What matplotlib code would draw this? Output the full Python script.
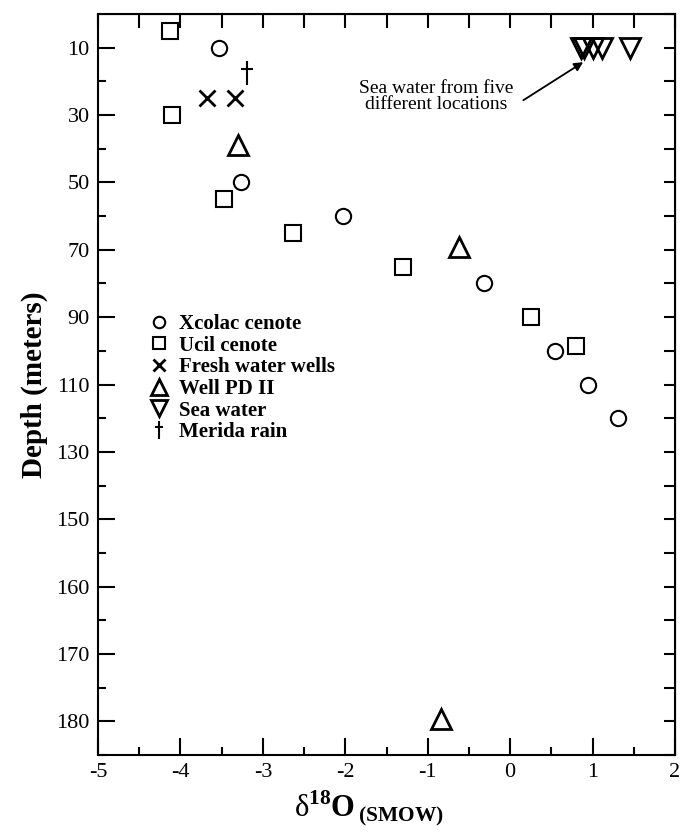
import matplotlib.pyplot as plt
import numpy as np
from matplotlib.path import Path

plt.rcParams["font.family"] = ["Liberation Serif", "DejaVu Serif"]
plt.rcParams["mathtext.fontset"] = "custom"
plt.rcParams["mathtext.rm"] = "Liberation Serif"
plt.rcParams["mathtext.bf"] = "Liberation Serif:bold"
plt.rcParams["axes.unicode_minus"] = False

# depth is in axis position units (the printed labels step by 10 below 150)
xcolac_d18o = [-3.53, -3.26, -2.03, -0.32, 0.55, 0.94, 1.31]
xcolac_depth = [10, 50, 60, 80, 100, 110, 120]
ucil_d18o = [-4.13, -4.10, -3.47, -2.63, -1.30, 0.25, 0.80]
ucil_depth = [5, 30, 55, 65, 75, 90, 98.5]
wells_d18o = [-3.68, -3.34]
wells_depth = [25, 25]
pd2_d18o = [-3.30, -0.62, -0.84]
pd2_depth = [39, 69.3, 209.4]
sea_d18o = [0.86, 0.90, 1.00, 1.12, 1.46]
sea_depth = [10, 10, 10, 10, 10]
rain_d18o = [-3.19]
rain_depth = [17.5]

depth_ticks = [10, 30, 50, 70, 90, 110, 130, 150, 170, 190, 210]
depth_labels = ["10", "30", "50", "70", "90", "110", "130", "150", "160", "170", "180"]
d18o_ticks = [-5, -4, -3, -2, -1, 0, 1, 2]

dagger = Path([(0, -1), (0, 1), (-0.5, 0.33), (0.5, 0.33)],
              [Path.MOVETO, Path.LINETO, Path.MOVETO, Path.LINETO])

fig = plt.figure(figsize=(6.84, 8.35), dpi=100)
ax = fig.add_axes([98 / 684, 1 - 755 / 835, 577 / 684, 741 / 835])

style = dict(linestyle="none", color="black", markerfacecolor="none")
ax.plot(xcolac_d18o, xcolac_depth, marker="o", markersize=11, markeredgewidth=1.5,
        label="Xcolac cenote", **style)
ax.plot(ucil_d18o, ucil_depth, marker="s", markersize=12, markeredgewidth=1.5,
        label="Ucil cenote", **style)
ax.plot(wells_d18o, wells_depth, marker="x", markersize=12, markeredgewidth=2,
        label="Fresh water wells", **style)
ax.plot(pd2_d18o, pd2_depth, marker="^", markersize=15, markeredgewidth=2,
        label="Well PD II", **style)
ax.plot(sea_d18o, sea_depth, marker="v", markersize=15, markeredgewidth=2,
        label="Sea water", **style)
ax.plot(rain_d18o, rain_depth, marker=dagger, markersize=17, markeredgewidth=1.5,
        label="Merida rain", **style)

ax.set_xlim(-5, 2)
ax.set_ylim(220, 0)

ax.set_xticks(d18o_ticks)
ax.set_xticklabels([str(t) for t in d18o_ticks])
ax.set_xticks(np.arange(-4.5, 2, 1.0), minor=True)
ax.set_yticks(depth_ticks)
ax.set_yticklabels(depth_labels)
ax.set_yticks(np.arange(20, 221, 20), minor=True)
ax.tick_params(which="both", direction="in", width=1.5, labelsize=16, top=False, right=False)
ax.tick_params(which="major", length=12, pad=6)
ax.tick_params(which="minor", length=6)
for spine in ax.spines.values():
    spine.set_linewidth(1.5)

top = ax.secondary_xaxis("top")
top.set_xticks(np.arange(-5, 2.01, 0.5))
top.tick_params(direction="in", length=10, width=1.5, labeltop=False)
right = ax.secondary_yaxis("right")
right.set_yticks(np.arange(0, 221, 10))
right.tick_params(direction="in", length=8, width=1.5, labelright=False)

ax.set_ylabel("Depth (meters)", fontsize=21, fontweight="bold", labelpad=6)
ax.set_xlabel(r"$\mathrm{\delta}^{\mathbf{18}}\mathbf{O}_{\mathbf{\,(SMOW)}}$", fontsize=22)
ax.xaxis.set_label_coords(0.47, -0.045)
ax.xaxis.label.set_va("top")

ax.text(-0.90, 24.4, "Sea water from five\ndifferent locations", ha="center", va="center",
        fontsize=14, linespacing=0.95)
ax.annotate("", xy=(0.886, 14.3), xytext=(0.16, 25.6),
            arrowprops=dict(arrowstyle="-|>", color="black", lw=1.3, shrinkA=0, shrinkB=0,
                            mutation_scale=13))

ax.legend(loc="upper left", bbox_to_anchor=(0.087, 0.595), frameon=False, numpoints=1,
          markerscale=0.75, handlelength=1.0, handletextpad=0.5, labelspacing=0.08,
          borderpad=0, borderaxespad=0,
          prop={"family": "Liberation Serif", "weight": "bold", "size": 15})

fig.savefig("out.png", dpi=100)
